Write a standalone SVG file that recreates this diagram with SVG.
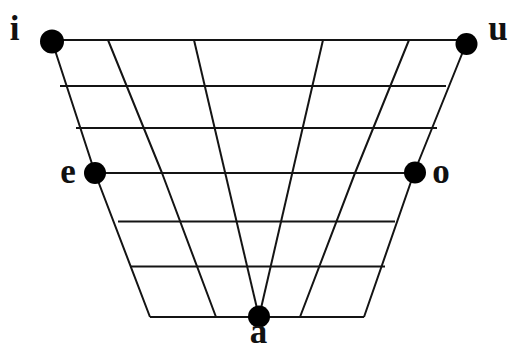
<svg xmlns="http://www.w3.org/2000/svg" width="512" height="351" viewBox="0 0 512 351">
<style>
.ln{stroke:#141414;stroke-width:2;fill:none;stroke-linejoin:round}
.dot{fill:#000}
.lbl{font-family:"Liberation Serif","Times New Roman",serif;font-weight:bold;font-size:35px;fill:#111;text-anchor:middle}
</style>
<rect width="512" height="351" fill="#fff"/>
<g id="connectors">
<line class="ln" x1="52" y1="40" x2="466" y2="40"/>
<line class="ln" x1="60" y1="86" x2="446" y2="86"/>
<line class="ln" x1="76" y1="128" x2="437" y2="128"/>
<line class="ln" x1="95" y1="173" x2="414" y2="173"/>
<line class="ln" x1="118" y1="221.5" x2="395" y2="221.5"/>
<line class="ln" x1="130" y1="266.5" x2="385" y2="266.5"/>
<line class="ln" x1="150" y1="317" x2="364" y2="317"/>
<polyline class="ln" points="52,41 95,173 150,317"/>
<polyline class="ln" points="466,44 414,173 364,317"/>
<polyline class="ln" points="108,40 162,173 216,317"/>
<line class="ln" x1="194" y1="40" x2="259" y2="317"/>
<line class="ln" x1="323" y1="40" x2="259" y2="317"/>
<polyline class="ln" points="409,40 355,173 300,317"/>
</g>
<g id="node-i"><circle class="dot" cx="52" cy="41.5" r="12"/><text class="lbl" x="14.5" y="40">i</text></g>
<g id="node-u"><circle class="dot" cx="466.5" cy="44" r="11"/><text class="lbl" x="498" y="39.5">u</text></g>
<g id="node-e"><circle class="dot" cx="95" cy="173" r="11"/><text class="lbl" x="68" y="183">e</text></g>
<g id="node-o"><circle class="dot" cx="415" cy="172.5" r="11"/><text class="lbl" x="441" y="183">o</text></g>
<g id="node-a"><circle class="dot" cx="259" cy="316.5" r="11"/><text class="lbl" x="258.5" y="343">a</text></g>
</svg>
